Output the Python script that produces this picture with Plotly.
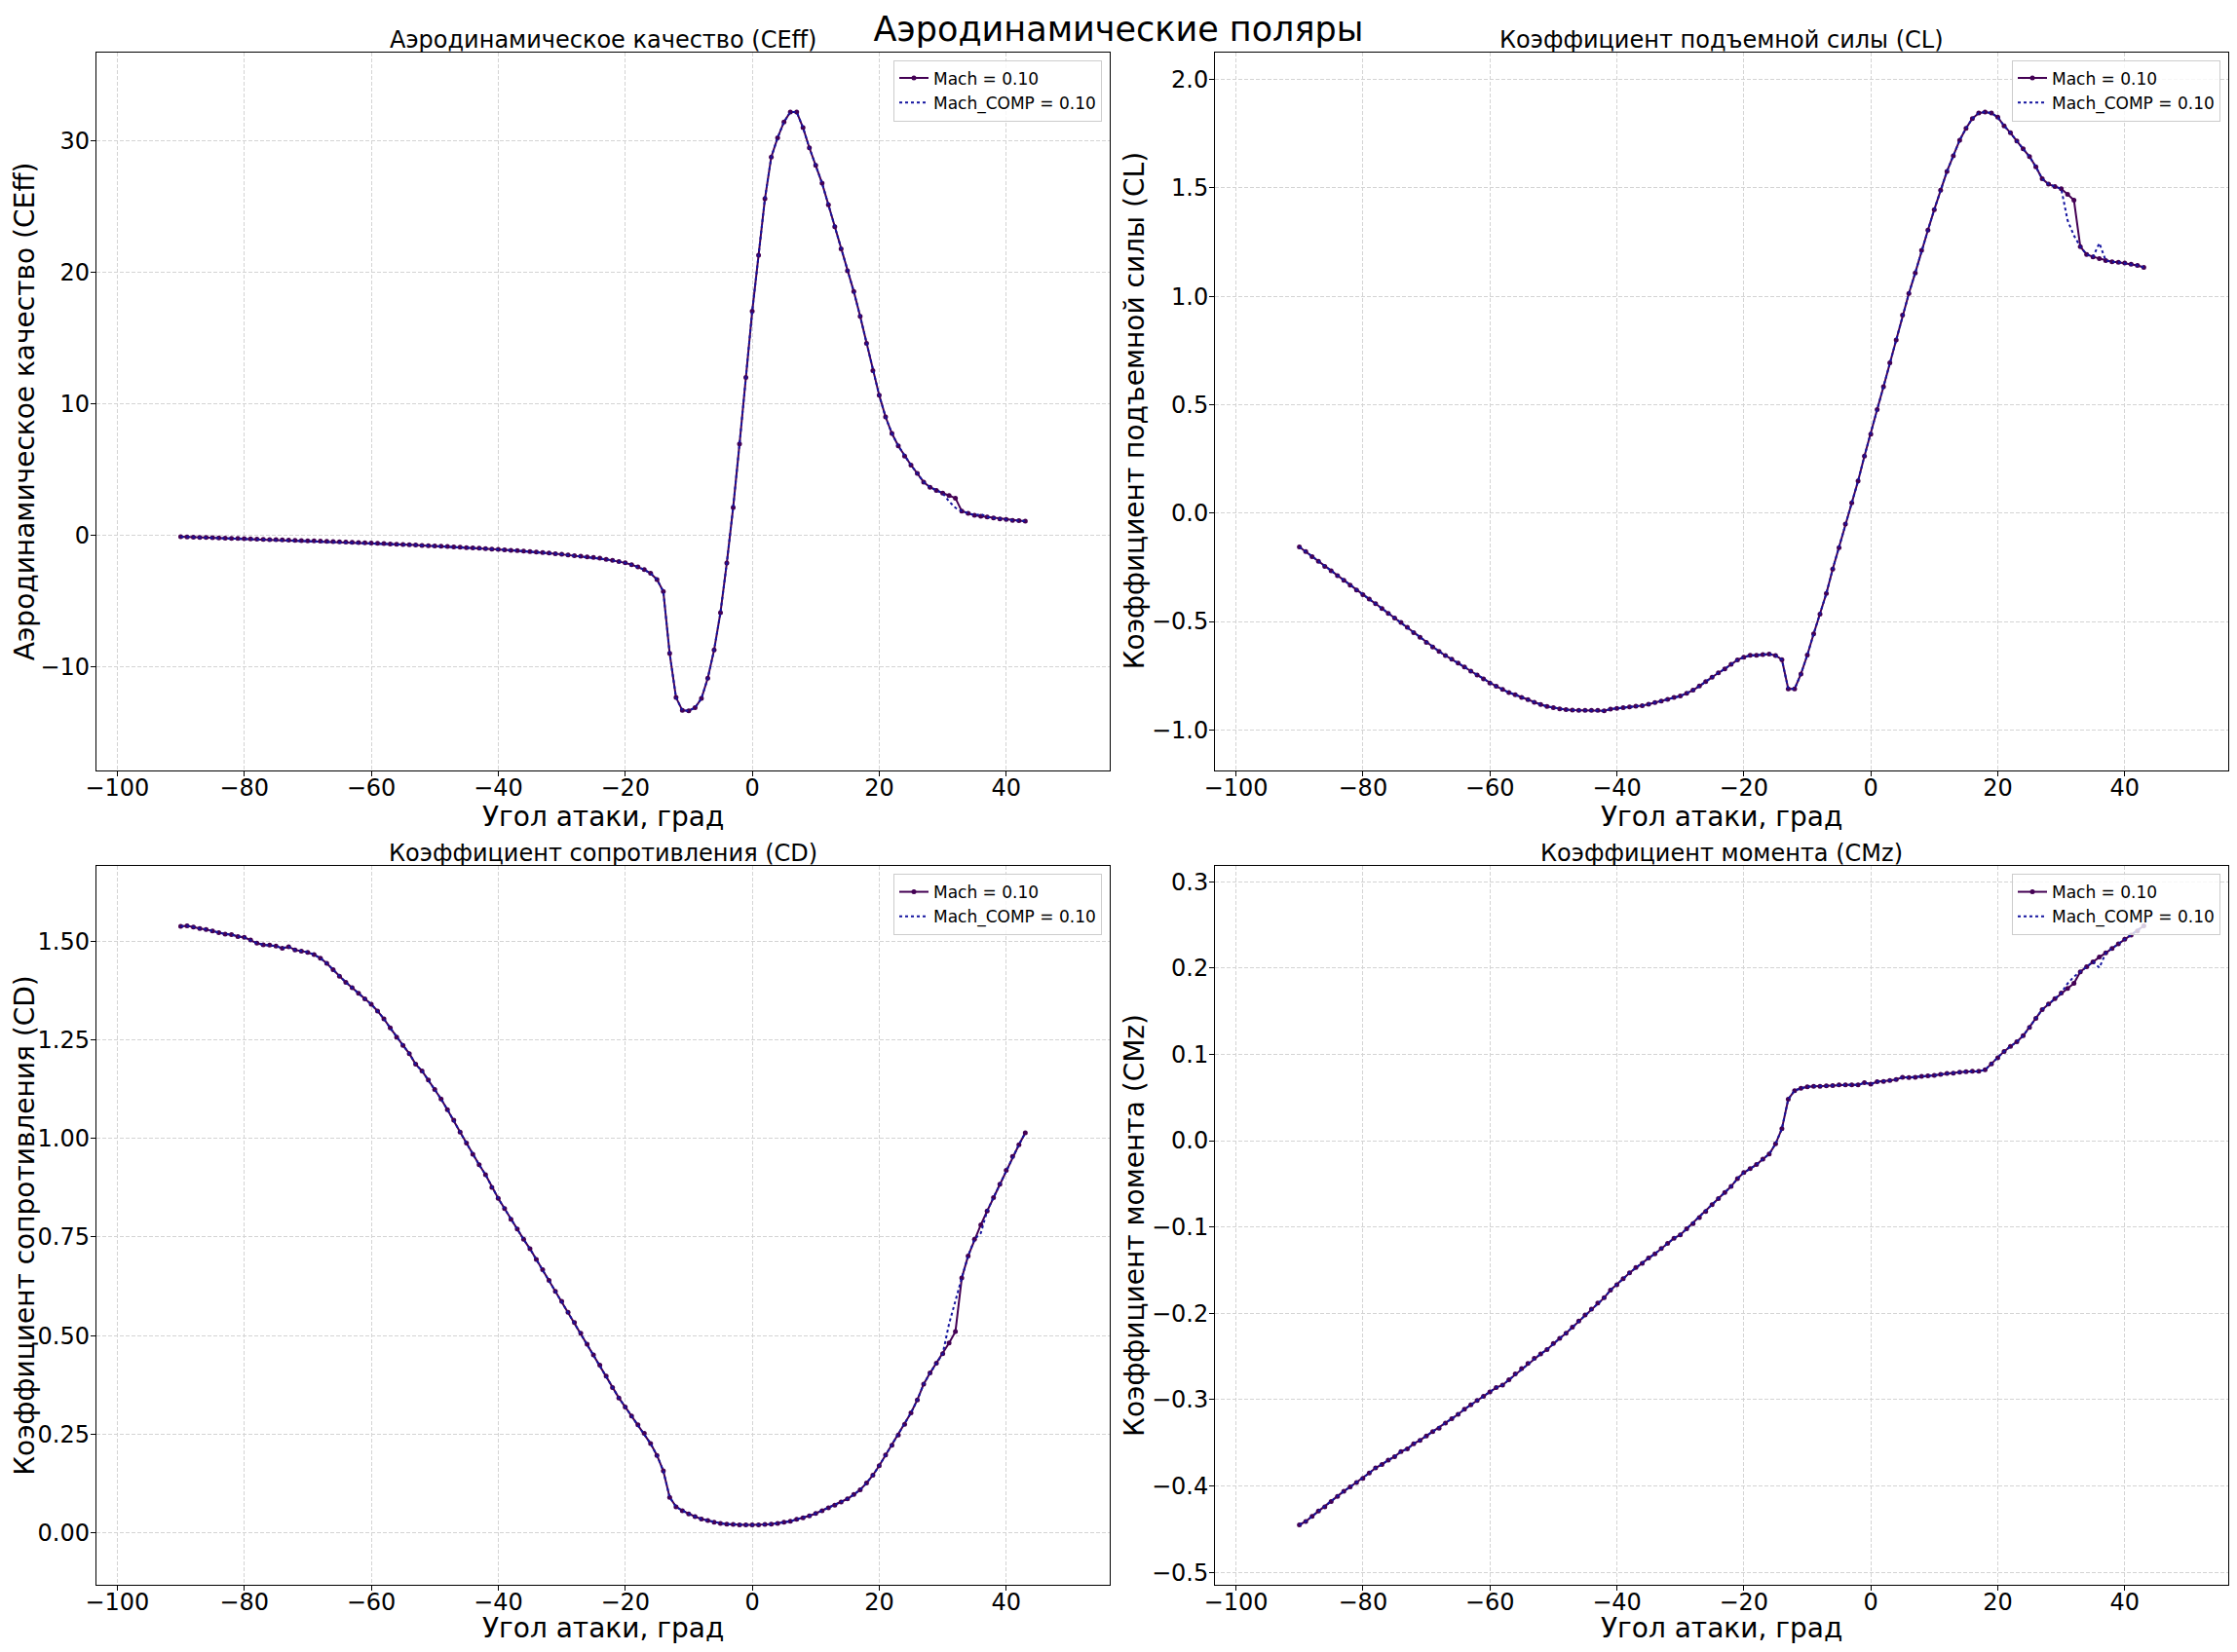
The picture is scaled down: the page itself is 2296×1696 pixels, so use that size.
import plotly.graph_objects as go

# angle of attack, deg
aoa = [-90, -89, -88, -87, -86, -85, -84, -83, -82, -81,
       -80, -79, -78, -77, -76, -75, -74, -73, -72, -71,
       -70, -69, -68, -67, -66, -65, -64, -63, -62, -61,
       -60, -59, -58, -57, -56, -55, -54, -53, -52, -51,
       -50, -49, -48, -47, -46, -45, -44, -43, -42, -41,
       -40, -39, -38, -37, -36, -35, -34, -33, -32, -31,
       -30, -29, -28, -27, -26, -25, -24, -23, -22, -21,
       -20, -19, -18, -17, -16, -15, -14, -13, -12, -11,
       -10, -9, -8, -7, -6, -5, -4, -3, -2, -1,
       0, 1, 2, 3, 4, 5, 6, 7, 8, 9,
       10, 11, 12, 13, 14, 15, 16, 17, 18, 19,
       20, 21, 22, 23, 24, 25, 26, 27, 28, 29,
       30, 31, 32, 33, 34, 35, 36, 37, 38, 39,
       40, 41, 42, 43]

ceff = [-0.100, -0.116, -0.131, -0.146, -0.161, -0.174, -0.189, -0.204, -0.219, -0.235,
        -0.249, -0.264, -0.280, -0.295, -0.311, -0.325, -0.340, -0.355, -0.373, -0.389,
        -0.405, -0.421, -0.437, -0.455, -0.472, -0.490, -0.509, -0.528, -0.546, -0.565,
        -0.585, -0.604, -0.624, -0.647, -0.667, -0.688, -0.709, -0.735, -0.755, -0.777,
        -0.799, -0.821, -0.845, -0.869, -0.896, -0.921, -0.948, -0.975, -1.004, -1.032,
        -1.062, -1.092, -1.125, -1.157, -1.194, -1.225, -1.261, -1.300, -1.342, -1.389,
        -1.438, -1.487, -1.533, -1.577, -1.626, -1.679, -1.734, -1.820, -1.900, -1.985,
        -2.085, -2.22, -2.40, -2.60, -2.88, -3.35, -4.26, -8.96, -12.31, -13.29,
        -13.32, -13.08, -12.38, -10.85, -8.69, -5.86, -2.09, 2.13, 6.94, 12.00,
        17.02, 21.28, 25.57, 28.74, 30.20, 31.40, 32.16, 32.16, 30.97, 29.44,
        28.11, 26.75, 25.11, 23.44, 21.76, 20.09, 18.52, 16.64, 14.58, 12.52,
        10.64, 9.00, 7.74, 6.80, 6.03, 5.34, 4.71, 4.05, 3.66, 3.42,
        3.21, 3.03, 2.83, 1.85, 1.67, 1.53, 1.46, 1.40, 1.33, 1.26,
        1.22, 1.15, 1.12, 1.08]

cl = [-0.156, -0.178, -0.201, -0.223, -0.246, -0.266, -0.289, -0.310, -0.332, -0.355,
      -0.376, -0.397, -0.418, -0.440, -0.463, -0.484, -0.504, -0.527, -0.551, -0.573,
      -0.596, -0.618, -0.638, -0.657, -0.674, -0.692, -0.710, -0.729, -0.747, -0.765,
      -0.784, -0.799, -0.813, -0.828, -0.838, -0.850, -0.861, -0.873, -0.883, -0.892,
      -0.898, -0.903, -0.907, -0.909, -0.910, -0.910, -0.910, -0.910, -0.912, -0.904,
      -0.901, -0.898, -0.894, -0.891, -0.888, -0.882, -0.874, -0.867, -0.859, -0.850,
      -0.844, -0.831, -0.817, -0.798, -0.777, -0.757, -0.737, -0.719, -0.698, -0.677,
      -0.665, -0.656, -0.656, -0.653, -0.650, -0.657, -0.676, -0.811, -0.811, -0.742,
      -0.655, -0.557, -0.466, -0.371, -0.258, -0.159, -0.051, 0.047, 0.148, 0.263,
      0.364, 0.477, 0.583, 0.693, 0.799, 0.913, 1.013, 1.108, 1.212, 1.305,
      1.400, 1.489, 1.576, 1.648, 1.720, 1.775, 1.820, 1.845, 1.850, 1.845,
      1.826, 1.786, 1.754, 1.716, 1.680, 1.644, 1.597, 1.542, 1.517, 1.506,
      1.496, 1.470, 1.443, 1.229, 1.193, 1.182, 1.174, 1.165, 1.159, 1.157,
      1.153, 1.148, 1.142, 1.133]

cd = [1.538, 1.539, 1.536, 1.532, 1.530, 1.526, 1.522, 1.518, 1.517, 1.512,
      1.510, 1.503, 1.495, 1.491, 1.490, 1.488, 1.482, 1.486, 1.478, 1.475,
      1.472, 1.466, 1.457, 1.444, 1.428, 1.411, 1.396, 1.382, 1.368, 1.354,
      1.340, 1.323, 1.303, 1.280, 1.257, 1.236, 1.215, 1.188, 1.171, 1.148,
      1.124, 1.100, 1.073, 1.046, 1.016, 0.988, 0.960, 0.933, 0.908, 0.876,
      0.848, 0.822, 0.795, 0.770, 0.744, 0.720, 0.693, 0.667, 0.640, 0.612,
      0.587, 0.559, 0.533, 0.506, 0.478, 0.451, 0.425, 0.397, 0.368, 0.342,
      0.319, 0.296, 0.274, 0.252, 0.226, 0.196, 0.157, 0.090, 0.066, 0.056,
      0.048, 0.041, 0.035, 0.031, 0.027, 0.024, 0.022, 0.021, 0.020, 0.020,
      0.020, 0.020, 0.021, 0.022, 0.024, 0.027, 0.029, 0.034, 0.038, 0.043,
      0.049, 0.056, 0.063, 0.070, 0.078, 0.086, 0.097, 0.109, 0.126, 0.146,
      0.170, 0.197, 0.222, 0.248, 0.275, 0.304, 0.337, 0.377, 0.405, 0.430,
      0.454, 0.481, 0.510, 0.646, 0.702, 0.744, 0.781, 0.816, 0.850, 0.884,
      0.919, 0.954, 0.984, 1.014]

cmz = [-0.445, -0.441, -0.435, -0.429, -0.424, -0.418, -0.412, -0.406, -0.401, -0.396,
       -0.391, -0.385, -0.379, -0.375, -0.370, -0.366, -0.360, -0.357, -0.351, -0.347,
       -0.342, -0.337, -0.333, -0.327, -0.322, -0.317, -0.311, -0.306, -0.301, -0.296,
       -0.291, -0.286, -0.283, -0.277, -0.270, -0.264, -0.258, -0.252, -0.247, -0.242,
       -0.235, -0.229, -0.223, -0.216, -0.209, -0.202, -0.195, -0.188, -0.182, -0.173,
       -0.167, -0.160, -0.153, -0.147, -0.142, -0.136, -0.131, -0.125, -0.119, -0.113,
       -0.109, -0.102, -0.096, -0.089, -0.082, -0.074, -0.067, -0.060, -0.053, -0.044,
       -0.037, -0.0325, -0.0277, -0.0213, -0.0155, -0.0037, 0.0139, 0.048, 0.058, 0.0607,
       0.0623, 0.0629, 0.0629, 0.0634, 0.0639, 0.0645, 0.0645, 0.0645, 0.0645, 0.0671,
       0.0655, 0.0682, 0.0687, 0.0698, 0.0709, 0.0735, 0.0730, 0.0735, 0.0746, 0.0751,
       0.0757, 0.0767, 0.0778, 0.0783, 0.0794, 0.0799, 0.0804, 0.0804, 0.0820, 0.0890,
       0.0959, 0.1034, 0.1092, 0.1145, 0.1215, 0.1311, 0.1417, 0.1518, 0.1582, 0.1646,
       0.1710, 0.1764, 0.1822, 0.1955, 0.2014, 0.2072, 0.2126, 0.2174, 0.2227, 0.2280,
       0.2334, 0.2381, 0.2430, 0.2488]

# Mach_COMP differs from Mach only at these angles
comp_aoa = [31, 32, 36]
ceff_comp_fix = [2.58, 2.10, 1.62]
cl_comp_fix = [1.35, 1.28, 1.245]
cd_comp_fix = [0.53, 0.59, 0.76]
cmz_comp_fix = [0.182, 0.190, 0.2003]


def with_fix(base, fix):
    out = list(base)
    for a, v in zip(comp_aoa, fix):
        out[aoa.index(a)] = v
    return out


# page is 2296x1696, the html body keeps its default 8px margin
W, H = 2296, 1696
OFF = 8
FW, FH = W - 2 * OFF, H - 2 * OFF
FONT = "DejaVu Sans"


def px_x(px):
    return (px - OFF) / FW


def px_y(py):
    return 1 - (py - OFF) / FH


x_dom = [[px_x(98.8), px_x(1139)], [px_x(1247), px_x(2287)]]
y_dom = [[px_y(791.2), px_y(53.5)], [px_y(1627), px_y(889)]]

# title, y label, values, comp fixes, y tick step, y tick format, y label shift
panels = [
    ("Аэродинамическое качество (CEff)", "Аэродинамическое качество (CEff)", ceff, ceff_comp_fix, 10, ",d", -73),
    ("Коэффициент подъемной силы (CL)", "Коэффициент подъемной силы (CL)", cl, cl_comp_fix, 0.5, ".1f", -83),
    ("Коэффициент сопротивления (CD)", "Коэффициент сопротивления (CD)", cd, cd_comp_fix, 0.25, ".2f", -74),
    ("Коэффициент момента (CMz)", "Коэффициент момента (CMz)", cmz, cmz_comp_fix, 0.1, ".1f", -83),
]

fig = go.Figure()
annotations = []
layout = {}

x_pad = 0.1 * (max(aoa) - min(aoa))
x_range = [min(aoa) - x_pad, max(aoa) + x_pad]

for i, (title, ylabel, vals, fix, dtick, fmt, yshift_lbl) in enumerate(panels):
    row, col = i // 2, i % 2
    s = "" if i == 0 else str(i + 1)
    comp = with_fix(vals, fix)
    leg = "legend" + s

    fig.add_trace(go.Scatter(
        x=aoa, y=vals, mode="lines+markers", name="Mach = 0.10",
        line=dict(color="#440154", width=2), marker=dict(size=5, color="#440154"),
        xaxis="x" + s, yaxis="y" + s, legend=leg))
    fig.add_trace(go.Scatter(
        x=aoa, y=comp, mode="lines", name="Mach_COMP = 0.10",
        line=dict(color="#1515a0", width=2, dash="dot"),
        xaxis="x" + s, yaxis="y" + s, legend=leg))

    lo = min(vals + comp)
    hi = max(vals + comp)
    pad = 0.1 * (hi - lo)

    common = dict(showline=True, mirror=True, linecolor="black", linewidth=1,
                  ticks="outside", ticklen=5, tickwidth=1, tickcolor="black",
                  showgrid=True, gridcolor="#d4d4d4", griddash="4px,2px", gridwidth=1,
                  zeroline=False, tickfont=dict(size=24, color="black", family=FONT))
    layout["xaxis" + s] = dict(domain=x_dom[col], range=x_range, anchor="y" + s,
                               dtick=20, tick0=0, ticklabelstandoff=-9, **common)
    layout["yaxis" + s] = dict(domain=y_dom[row], range=[lo - pad, hi + pad], anchor="x" + s,
                               dtick=dtick, tick0=0, tickformat=fmt, ticklabelstandoff=-4,
                               **common)

    xr = "x" + s + " domain"
    yr = "y" + s + " domain"
    annotations.append(dict(text=title, x=0.5, xref=xr, y=1, yref=yr, xanchor="center",
                            yanchor="bottom", yshift=-3, showarrow=False,
                            font=dict(size=24, color="black", family=FONT)))
    annotations.append(dict(text="Угол атаки, град", x=0.5, xref=xr, y=0, yref=yr,
                            xanchor="center", yanchor="middle",
                            yshift=-47 if row == 0 else -44, showarrow=False,
                            font=dict(size=28, color="black", family=FONT)))
    annotations.append(dict(text=ylabel, x=0, xref=xr, y=0.5, yref=yr, xanchor="center",
                            yanchor="middle", xshift=yshift_lbl, textangle=-90, showarrow=False,
                            font=dict(size=28, color="black", family=FONT)))

    layout[leg] = dict(x=x_dom[col][1] - 8 / FW, y=y_dom[row][1] - 8 / FH,
                       xanchor="right", yanchor="top",
                       bgcolor="rgba(255,255,255,0.8)", bordercolor="#cccccc", borderwidth=1,
                       font=dict(size=17, color="black", family=FONT))

fig.update_layout(
    width=FW, height=FH, template="none",
    margin=dict(l=0, r=0, t=0, b=0),
    paper_bgcolor="white", plot_bgcolor="white",
    font=dict(family=FONT, color="black"),
    title=dict(text="Аэродинамические поляры", x=0.5, xanchor="center",
               y=px_y(30), yanchor="middle", font=dict(size=35, color="black", family=FONT)),
    annotations=annotations,
    **layout)

fig.write_html("out.html")
